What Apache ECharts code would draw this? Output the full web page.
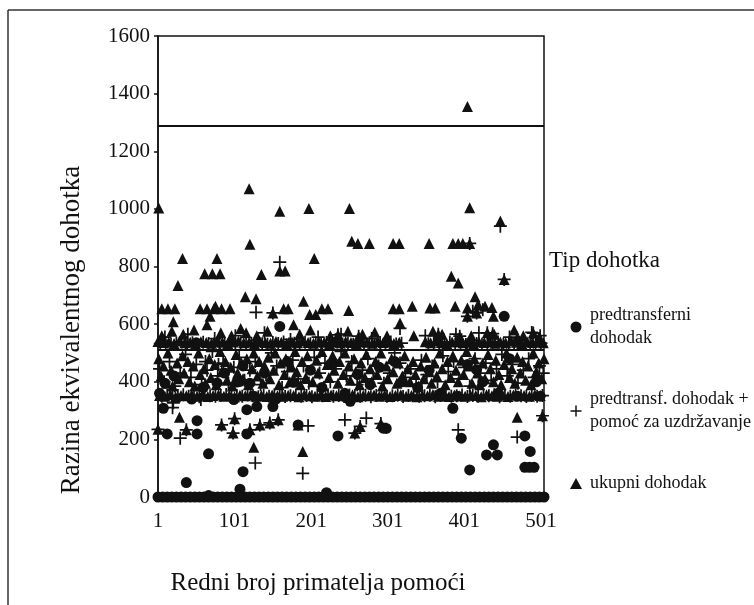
<!DOCTYPE html>
<html>
<head>
<meta charset="utf-8">
<script src="https://cdn.jsdelivr.net/npm/echarts@6/dist/echarts.min.js"></script>
<style>
  html, body { margin: 0; padding: 0; background: #fff; }
  #chart { width: 754px; height: 605px; }
</style>
</head>
<body>
<div id="chart"></div>
<script>
// x-os: redni broj primatelja (1..505), y-os: razina ekvivalentnog dohotka
const xTicks = [1, 101, 201, 301, 401, 501];
const refLines = [1290, 510];
const seriesNames = ['predtransferni\ndohodak', 'predtransf. dohodak +\npomoć za uzdržavanje', 'ukupni dohodak'];

// predtransferni dohodak - nule (debela traka na dnu)
const predZero = [[1,0],[7,0],[13,0],[19,0],[25,0],[31,0],[37,0],[43,0],[49,0],[55,0],[61,0],[67,0],[73,0],[79,0],[85,0],[91,0],[97,0],[103,0],[109,0],[115,0],[121,0],[127,0],[133,0],[139,0],[145,0],[151,0],[157,0],[163,0],[169,0],[175,0],[181,0],[187,0],[193,0],[199,0],[205,0],[211,0],[217,0],[223,0],[229,0],[235,0],[241,0],[247,0],[253,0],[259,0],[265,0],[271,0],[277,0],[283,0],[289,0],[295,0],[301,0],[307,0],[313,0],[319,0],[325,0],[331,0],[337,0],[343,0],[349,0],[355,0],[361,0],[367,0],[373,0],[379,0],[385,0],[391,0],[397,0],[403,0],[409,0],[415,0],[421,0],[427,0],[433,0],[439,0],[445,0],[451,0],[457,0],[463,0],[469,0],[475,0],[481,0],[487,0],[493,0],[499,0],[505,0]];
// predtransferni dohodak - ostale vrijednosti
const predOther = [[8,308],[13,219],[38,50],[52,265],[52,219],[67,150],[67,5],[108,27],[112,88],[117,219],[117,303],[130,314],[151,314],[160,592],[184,250],[221,15],[236,212],[252,332],[295,239],[299,238],[386,308],[397,204],[408,94],[430,146],[439,181],[444,146],[453,627],[480,212],[487,158],[480,103],[492,103],[486,103],
  [3,360],[10,395],[22,420],[45,340],[51,535],[60,380],[78,396],[88,430],[100,338],[104,399],[108,401],[112,455],[121,395],[126,350],[140,430],[155,340],[170,470],[178,398],[200,440],[215,380],[230,465],[245,360],[262,425],[278,390],[290,450],[310,470],[320,400],[340,380],[355,440],[370,360],[392,350],[405,460],[417,442],[425,400],[445,360],[460,480],[470,350],[495,400],[500,350]];

// predtransf. dohodak + pomoć za uzdržavanje
const pomocRowLow = [[6,350],[13,353],[20,349],[27,352],[34,355],[41,350],[48,352],[55,348],[62,354],[69,351],[76,350],[83,353],[90,356],[97,349],[104,352],[111,350],[118,354],[125,351],[132,348],[139,353],[146,350],[153,355],[160,352],[167,349],[174,351],[181,354],[188,350],[195,352],[202,348],[209,353],[216,351],[223,355],[230,350],[237,352],[244,349],[251,354],[258,351],[265,350],[272,353],[279,348],[286,352],[293,355],[300,350],[307,351],[314,353],[321,349],[328,352],[335,354],[342,350],[349,351],[356,353],[363,348],[370,352],[377,355],[384,350],[391,351],[398,354],[405,349],[412,352],[419,350],[426,353],[433,351],[440,355],[447,348],[454,352],[461,350],[468,354],[475,351],[482,349],[489,353],[496,350],[503,352]];
const pomocRowHigh = [[4,532],[11,536],[18,530],[25,534],[32,538],[39,531],[46,535],[53,529],[60,537],[67,533],[74,530],[81,536],[88,532],[95,538],[102,531],[109,535],[116,529],[123,534],[130,537],[137,532],[144,530],[151,536],[158,533],[165,538],[172,531],[179,534],[186,530],[193,537],[200,532],[207,535],[214,529],[221,536],[228,533],[235,538],[242,531],[249,534],[256,530],[263,537],[270,532],[277,535],[284,529],[291,536],[298,533],[305,538],[312,531],[319,534],[354,532],[361,536],[368,530],[375,535],[382,538],[389,531],[396,534],[403,529],[410,537],[417,533],[424,530],[431,536],[438,532],[445,538],[452,531],[459,535],[466,530],[473,537],[480,533],[487,536],[494,531],[501,534]];
const pomocMid = [[3,445],[9,400],[16,470],[23,385],[30,430],[37,495],[44,415],[51,460],[58,390],[65,440],[72,505],[79,420],[86,465],[93,395],[100,450],[107,485],[114,405],[121,440],[128,470],[135,390],[142,425],[149,500],[156,455],[163,380],[170,435],[177,475],[184,410],[191,455],[198,395],[205,485],[212,430],[219,465],[226,400],[233,445],[240,505],[247,420],[254,470],[261,390],[268,440],[275,480],[282,410],[289,455],[296,395],[303,430],[310,500],[317,465],[324,415],[331,445],[338,390],[345,475],[352,425],[359,455],[366,400],[373,490],[380,435],[387,470],[394,410],[401,450],[408,385],[415,480],[422,430],[429,465],[436,405],[443,445],[450,495],[457,420],[464,460],[471,395],[478,440],[485,480],[492,415],[499,455],[504,430],
  [10,555],[40,565],[75,550],[102,560],[140,570],[174,547],[210,555],[240,565],[280,550],[350,560],[390,565],[420,570],[460,555],[489,571],[500,560],[367,565],[395,558],[431,570],[438,567],[491,569],[470,552],[236,563],[263,558],[63,470],[80,460]];
const pomocOut = [[129,641],[160,815],[448,940],[453,755],[405,627],[417,639],[412,645],[425,650],[151,639],[317,585],[57,338],[30,204],[21,327],[20,310],[128,118],[190,82],[197,247],[245,268],[273,274],[470,208],[393,233],[1,235],[38,233],[84,250],[99,222],[101,272],[121,233],[134,250],[147,257],[158,268],[258,222],[265,245],[292,255],[503,282],[408,880]];

// ukupni dohodak
const ukupniRowLow = [[3,352],[10,350],[17,355],[24,348],[31,352],[38,351],[45,354],[52,350],[59,353],[66,349],[73,352],[80,355],[87,350],[94,352],[101,348],[108,353],[115,351],[122,356],[129,350],[136,352],[143,349],[150,354],[157,351],[164,350],[171,353],[178,352],[185,348],[192,355],[199,351],[206,350],[213,353],[220,349],[227,354],[234,351],[241,352],[248,350],[255,355],[262,348],[269,352],[276,351],[283,354],[290,350],[297,353],[304,349],[311,352],[318,355],[325,350],[332,352],[339,348],[346,353],[353,351],[360,356],[367,350],[374,352],[381,349],[388,354],[395,351],[402,350],[409,353],[416,352],[423,348],[430,355],[437,351],[444,350],[451,353],[458,349],[465,354],[472,351],[479,352],[486,350],[493,355],[500,352]];
const ukupniRowHigh = [[1,540],[8,536],[15,538],[22,533],[29,541],[36,535],[43,537],[50,532],[57,539],[64,536],[71,534],[78,540],[85,537],[92,533],[99,538],[106,541],[113,535],[120,537],[127,532],[134,539],[141,536],[148,534],[155,540],[162,537],[169,533],[176,538],[183,535],[190,541],[197,536],[204,534],[211,539],[218,537],[225,532],[232,538],[239,535],[246,540],[253,536],[260,533],[267,539],[274,537],[281,534],[288,540],[295,536],[302,538],[309,533],[316,537],[350,539],[357,535],[364,541],[371,536],[378,533],[385,538],[392,540],[399,535],[406,537],[413,532],[420,539],[427,536],[434,540],[441,534],[448,538],[455,535],[462,541],[469,537],[476,533],[483,539],[490,536],[497,540],[504,535]];
const ukupniMid = [[2,480],[5,420],[8,455],[12,395],[14,500],[18,440],[20,385],[26,465],[28,410],[33,490],[35,430],[40,470],[42,400],[47,455],[49,385],[54,500],[56,425],[61,445],[63,395],[68,480],[70,415],[75,460],[77,390],[82,505],[84,435],[89,470],[91,405],[96,450],[98,385],[103,495],[105,430],[110,465],[112,410],[117,480],[119,390],[124,445],[126,500],[131,420],[133,470],[138,395],[140,455],[145,485],[147,410],[152,440],[154,500],[159,390],[161,465],[166,425],[168,480],[173,400],[175,455],[180,505],[182,435],[187,390],[189,470],[194,415],[196,490],[201,445],[203,400],[208,475],[210,430],[215,505],[217,385],[222,460],[224,415],[229,490],[231,440],[236,395],[238,470],[243,425],[245,500],[250,455],[252,405],[257,480],[259,435],[264,390],[266,465],[271,415],[273,495],[278,445],[280,400],[285,470],[287,425],[292,500],[294,385],[299,455],[301,410],[306,480],[308,435],[313,395],[315,465],[320,420],[323,490],[327,445],[330,400],[334,470],[337,425],[341,385],[344,455],[348,410],[351,485],[355,435],[358,395],[362,465],[365,420],[369,500],[372,445],[376,390],[379,470],[383,415],[386,490],[390,440],[393,400],[397,475],[400,425],[404,505],[407,455],[411,395],[414,480],[418,430],[421,390],[425,465],[428,410],[432,495],[435,445],[439,400],[442,475],[446,425],[449,390],[453,460],[456,500],[460,415],[463,445],[467,395],[470,485],[474,430],[477,470],[481,405],[484,455],[488,390],[491,500],[495,435],[498,465],[502,410],[505,480],
  [6,560],[19,575],[34,565],[48,580],[83,570],[97,560],[109,585],[116,570],[130,560],[144,575],[186,565],[200,580],[226,560],[236,563],[249,575],[263,558],[268,565],[284,572],[300,560],[335,560],[360,575],[367,565],[372,565],[395,558],[410,560],[431,570],[438,567],[440,565],[466,580],[470,552],[478,560],[491,569],[499,555]];
const ukupniLow = [[1,235],[38,233],[84,250],[99,222],[101,272],[121,233],[134,250],[147,257],[158,268],[258,222],[265,245],[292,255],[503,282],[29,277],[126,173],[190,158],[470,277],[184,250]];
const ukupniHigh = [[2,1003],[27,734],[33,828],[62,775],[72,775],[82,775],[78,828],[6,653],[14,653],[23,653],[56,653],[65,653],[74,653],[84,653],[95,653],[76,662],[69,627],[65,598],[21,608],[120,1070],[121,877],[136,772],[115,695],[129,688],[151,639],[160,992],[160,784],[167,784],[165,653],[171,653],[178,598],[191,679],[198,1001],[199,633],[207,633],[205,828],[215,653],[223,653],[251,1001],[250,647],[254,888],[262,880],[277,880],[308,880],[316,880],[308,653],[316,653],[317,604],[333,662],[355,880],[356,656],[363,656],[386,880],[393,880],[399,880],[408,880],[408,1004],[405,1355],[384,766],[393,743],[389,662],[415,695],[419,668],[428,662],[437,658],[405,656],[405,627],[417,639],[439,627],[448,958],[453,755]];

const ink = '#111';
const serif = 'Liberation Serif';
const plusPath = 'path://M5.2,0H6.8V5.2H12V6.8H6.8V12H5.2V6.8H0V5.2H5.2Z';

const myChart = echarts.init(document.getElementById('chart'));

const option = {
  animation: false,
  backgroundColor: '#fff',
  textStyle: { fontFamily: serif, color: ink },
  title: {
    text: 'Tip dohotka',
    left: 549,
    top: 249,
    padding: 0,
    textStyle: { fontFamily: serif, fontSize: 23, fontWeight: 'normal', color: ink }
  },
  legend: {
    orient: 'vertical',
    left: 565,
    top: 299,
    itemWidth: 12,
    itemHeight: 11,
    itemGap: 38,
    selectedMode: false,
    textStyle: { fontFamily: serif, fontSize: 18, lineHeight: 23, color: ink, padding: [0, 0, 0, 3] },
    data: seriesNames
  },
  grid: {
    left: 158,
    right: 210,
    top: 36,
    bottom: 108,
    show: true,
    borderColor: ink,
    borderWidth: 1.5
  },
  xAxis: {
    type: 'value',
    min: 1,
    max: 505,
    splitLine: { show: false },
    axisLine: { show: true, lineStyle: { color: ink, width: 1.5 } },
    axisTick: { show: false },
    axisLabel: {
      customValues: xTicks,
      margin: 14,
      fontFamily: serif,
      fontSize: 21,
      color: ink,
      formatter: v => String(v)
    }
  },
  yAxis: {
    type: 'value',
    min: 0,
    max: 1600,
    interval: 200,
    splitLine: { show: false },
    axisLine: { show: true, lineStyle: { color: ink, width: 1.5 } },
    axisTick: { show: true, length: 4, lineStyle: { color: ink, width: 1.5 } },
    axisLabel: { margin: 8, fontFamily: serif, fontSize: 21, color: ink, formatter: v => String(v) }
  },
  graphic: [
    { type: 'line', shape: { x1: 8, y1: 10, x2: 754, y2: 10 }, style: { stroke: '#333', lineWidth: 1.5 } },
    { type: 'line', shape: { x1: 8, y1: 10, x2: 8, y2: 605 }, style: { stroke: '#333', lineWidth: 1.5 } },
    {
      type: 'text',
      x: 72,
      y: 330,
      rotation: Math.PI / 2,
      style: {
        text: 'Razina ekvivalentnog dohotka',
        font: '27px "Liberation Serif"',
        fill: ink,
        align: 'center',
        verticalAlign: 'middle'
      }
    },
    {
      type: 'text',
      x: 318,
      y: 583,
      style: {
        text: 'Redni broj primatelja pomoći',
        font: '25px "Liberation Serif"',
        fill: ink,
        align: 'center',
        verticalAlign: 'middle'
      }
    }
  ],
  series: [
    {
      name: seriesNames[0],
      type: 'scatter',
      symbol: 'circle',
      symbolSize: 11,
      itemStyle: { color: ink, opacity: 1 },
      data: predZero.concat(predOther)
    },
    {
      name: seriesNames[1],
      type: 'scatter',
      symbol: plusPath,
      symbolSize: 13,
      itemStyle: { color: ink, opacity: 1 },
      data: pomocRowLow.concat(pomocRowHigh, pomocMid, pomocOut)
    },
    {
      name: seriesNames[2],
      type: 'scatter',
      symbol: 'triangle',
      symbolSize: 11,
      itemStyle: { color: ink, opacity: 1 },
      data: ukupniRowLow.concat(ukupniRowHigh, ukupniMid, ukupniLow, ukupniHigh),
      markLine: {
        silent: true,
        symbol: ['none', 'none'],
        label: { show: false },
        lineStyle: { color: ink, width: 2, type: 'solid' },
        data: refLines.map(v => ({ yAxis: v }))
      }
    }
  ]
};

option && myChart.setOption(option);
</script>
</body>
</html>
